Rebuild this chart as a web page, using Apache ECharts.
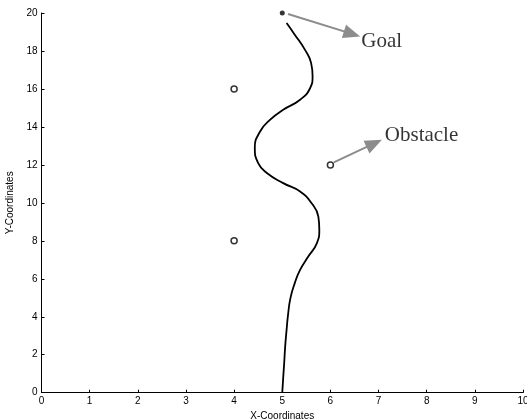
<!DOCTYPE html>
<html>
<head>
<meta charset="utf-8">
<script src="https://cdn.jsdelivr.net/npm/echarts@6/dist/echarts.min.js"></script>
<style>
  html, body { margin: 0; padding: 0; background: #fff; }
  #chart { width: 527px; height: 420px; }
</style>
</head>
<body>
<div id="chart"></div>
<script>
// Planned path from start (5,0) to the goal
const pathX = [5.00, 5.02, 5.04, 5.06, 5.09, 5.12, 5.17, 5.26, 5.37, 5.54, 5.72, 5.77, 5.75, 5.61, 5.37, 5.02, 4.68, 4.50, 4.43, 4.54, 4.75, 5.02, 5.37, 5.58, 5.63, 5.60, 5.47, 5.26, 5.09];
const pathY = [0.00, 0.80, 1.55, 2.40, 3.31, 4.10, 4.98, 5.77, 6.47, 7.17, 7.88, 8.58, 9.28, 9.98, 10.60, 11.04, 11.57, 12.09, 12.90, 13.76, 14.38, 14.90, 15.43, 16.05, 16.66, 17.36, 18.07, 18.86, 19.47];

// Obstacles and goal
const obstacleX = [4, 4, 6];
const obstacleY = [16, 8, 12];
const goalX = [5];
const goalY = [20];

// Annotation arrows: [fromX, fromY, headX, headY]
const arrowGoal = [5.12, 19.95, 6.45, 18.90];
const arrowObstacle = [6.07, 12.13, 6.91, 13.13];
// Annotation texts and their anchor points
const noteText = ['Goal', 'Obstacle'];
const noteX = [6.64, 7.13];
const noteY = [18.48, 13.55];

const zip = (xs, ys) => xs.map((x, i) => [x, ys[i]]);

const axisFont = { fontFamily: 'Liberation Sans, Arial, sans-serif', fontSize: 10, color: '#000' };

const arrowItem = (a) => [
  { coord: [a[0], a[1]], symbol: 'none' },
  { coord: [a[2], a[3]], symbol: 'triangle', symbolSize: [14, 17] }
];

const chart = echarts.init(document.getElementById('chart'), null, { renderer: 'canvas' });
chart.setOption({
  animation: false,
  backgroundColor: '#fff',
  grid: { left: 41.5, right: 4, top: 13, bottom: 27.3, containLabel: false, outerBoundsMode: 'none' },
  xAxis: {
    type: 'value', min: 0, max: 10, interval: 1,
    name: 'X-Coordinates', nameLocation: 'middle', nameGap: 13,
    nameTextStyle: axisFont,
    axisLine: { show: true, onZero: false, lineStyle: { color: '#000', width: 1 } },
    axisTick: { show: true, inside: true, length: 3, lineStyle: { color: '#000' } },
    axisLabel: Object.assign({ margin: 4 }, axisFont),
    splitLine: { show: false }
  },
  yAxis: {
    type: 'value', min: 0, max: 20, interval: 2,
    name: 'Y-Coordinates', nameLocation: 'middle', nameGap: 26,
    nameTextStyle: axisFont,
    axisLine: { show: true, onZero: false, lineStyle: { color: '#000', width: 1 } },
    axisTick: { show: true, inside: true, length: 3, lineStyle: { color: '#000' } },
    axisLabel: Object.assign({ margin: 4 }, axisFont),
    splitLine: { show: false }
  },
  series: [
    {
      type: 'line',
      data: zip(pathX, pathY),
      smooth: 0.5,
      showSymbol: false,
      lineStyle: { color: '#000', width: 1.8 },
      z: 3
    },
    {
      type: 'scatter',
      data: zip(obstacleX, obstacleY),
      symbol: 'circle',
      symbolSize: 6,
      itemStyle: { color: '#fff', borderColor: '#000', borderWidth: 1.5 },
      z: 4
    },
    {
      type: 'scatter',
      data: zip(goalX, goalY),
      symbol: 'circle',
      symbolSize: 5,
      itemStyle: { color: '#000' },
      z: 4
    },
    {
      type: 'line',
      data: [],
      markLine: {
        silent: true,
        animation: false,
        label: { show: false },
        lineStyle: { color: '#8c8c8c', width: 2, type: 'solid' },
        itemStyle: { color: '#8c8c8c' },
        data: [arrowItem(arrowGoal), arrowItem(arrowObstacle)]
      }
    },
    {
      type: 'scatter',
      data: noteText.map((t, i) => ({ value: [noteX[i], noteY[i]], name: t })),
      symbolSize: 0,
      silent: true,
      label: {
        show: true,
        position: 'right',
        distance: 0,
        formatter: (p) => p.name,
        fontFamily: 'Liberation Serif, Times New Roman, serif',
        fontSize: 21,
        color: '#000',
        align: 'left',
        verticalAlign: 'middle'
      }
    }
  ]
});
</script>
</body>
</html>
